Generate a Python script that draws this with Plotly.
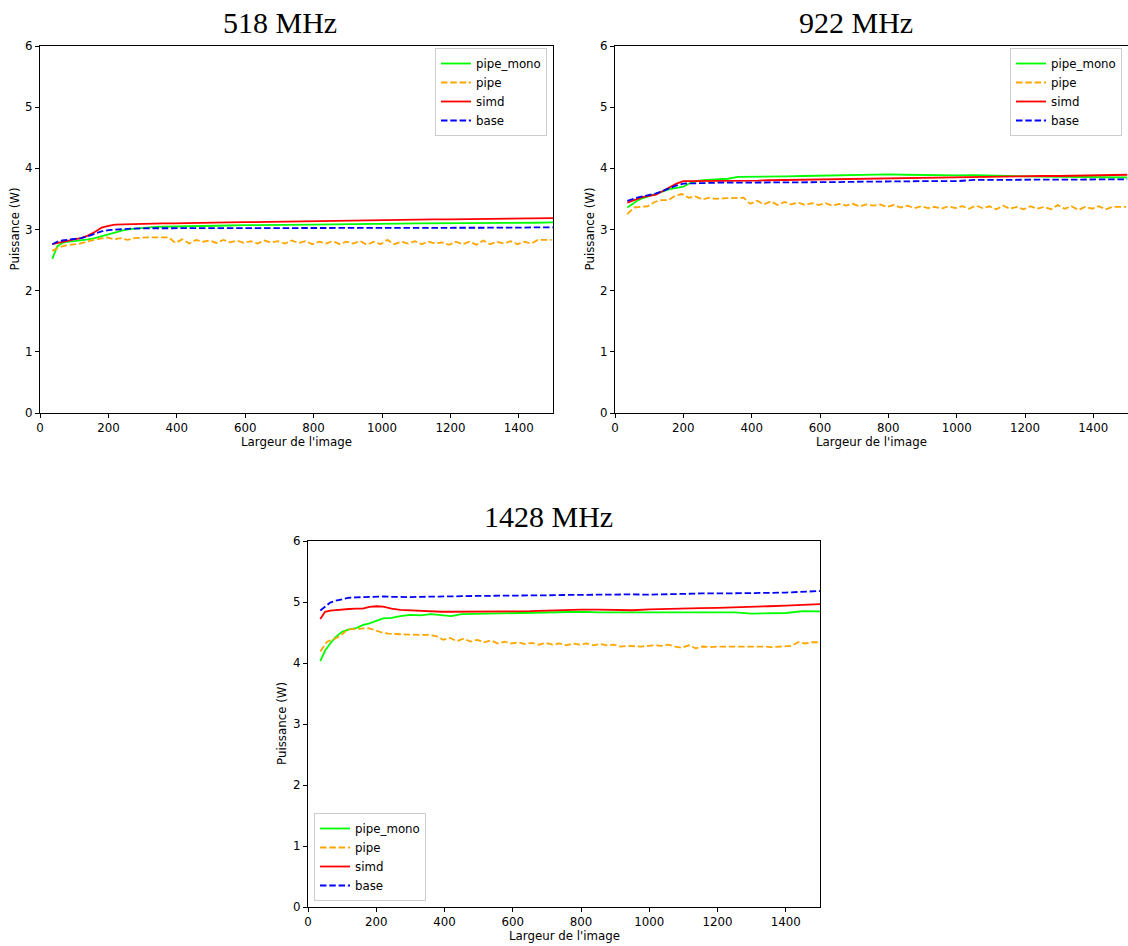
import plotly.graph_objects as go

W, H = 1128, 946


def px(x):
    return x / W


def py(y):
    return 1 - y / H


# ---------------- data ----------------
TITLES = ["518 MHz", "922 MHz", "1428 MHz"]
SERIES = ["pipe_mono", "pipe", "simd", "base"]
COLORS = {"pipe_mono": "#00ff00", "pipe": "#ffa500", "simd": "#ff0000", "base": "#0000ff"}
DASHED = {"pipe_mono": False, "pipe": True, "simd": False, "base": True}

# x grid of the smooth series (image width)
X_SMOOTH = [36, 50, 65, 80, 100, 120, 140, 160, 180, 200, 220, 245, 270, 300, 330, 360, 390,
            420, 450, 500, 550, 600, 650, 700, 750, 800, 850, 900, 950, 1000, 1050, 1100,
            1150, 1200, 1250, 1300, 1350, 1400, 1450, 1500]
# x grid of the "pipe" series (finer, noisy)
X_PIPE = list(range(36, 1500, 20))

# ---- 518 MHz ----
P518_pipe_mono = [2.52, 2.72, 2.78, 2.80, 2.81, 2.82, 2.84, 2.86, 2.89, 2.93, 2.96, 2.99, 3.01,
                  3.03, 3.04, 3.045, 3.05, 3.05, 3.055, 3.06, 3.065, 3.07, 3.07, 3.075, 3.08,
                  3.08, 3.085, 3.085, 3.09, 3.09, 3.095, 3.10, 3.10, 3.10, 3.105, 3.105, 3.11,
                  3.11, 3.11, 3.115]
P518_simd = [2.76, 2.78, 2.80, 2.82, 2.84, 2.86, 2.90, 2.96, 3.03, 3.06, 3.08, 3.085, 3.09,
             3.09, 3.10, 3.10, 3.10, 3.105, 3.11, 3.11, 3.115, 3.12, 3.125, 3.13, 3.135, 3.14,
             3.14, 3.145, 3.15, 3.155, 3.16, 3.16, 3.165, 3.165, 3.17, 3.17, 3.175, 3.175,
             3.18, 3.185]
P518_base = [2.76, 2.80, 2.82, 2.83, 2.84, 2.86, 2.89, 2.93, 2.97, 2.99, 3.00, 3.01, 3.015,
             3.02, 3.02, 3.02, 3.02, 3.02, 3.02, 3.02, 3.02, 3.02, 3.02, 3.02, 3.025, 3.025,
             3.025, 3.025, 3.025, 3.025, 3.025, 3.025, 3.03, 3.03, 3.03, 3.03, 3.03, 3.03,
             3.035, 3.035]
P518_pipe = [2.65, 2.71, 2.74, 2.75, 2.77, 2.80, 2.83, 2.85, 2.87, 2.84,
             2.86, 2.83, 2.86, 2.87, 2.87, 2.87, 2.87, 2.87, 2.78, 2.84,
             2.77, 2.83, 2.80, 2.82, 2.78, 2.83, 2.79, 2.82, 2.78, 2.81,
             2.77, 2.82, 2.79, 2.81, 2.77, 2.82, 2.78, 2.81, 2.76, 2.80,
             2.77, 2.81, 2.76, 2.80, 2.77, 2.81, 2.75, 2.80, 2.76, 2.83,
             2.76, 2.80, 2.77, 2.81, 2.76, 2.80, 2.77, 2.79, 2.75, 2.80,
             2.76, 2.80, 2.75, 2.82, 2.76, 2.80, 2.77, 2.81, 2.76, 2.80,
             2.77, 2.83, 2.83, 2.83]

# ---- 922 MHz ----
P922_pipe_mono = [3.36, 3.42, 3.47, 3.51, 3.55, 3.59, 3.63, 3.66, 3.68, 3.70, 3.76, 3.80, 3.81,
                  3.82, 3.83, 3.86, 3.86, 3.865, 3.86, 3.87, 3.875, 3.88, 3.89, 3.90, 3.905,
                  3.90, 3.895, 3.89, 3.89, 3.885, 3.89, 3.88, 3.875, 3.87, 3.865, 3.86, 3.86,
                  3.855, 3.85, 3.85]
P922_simd = [3.44, 3.47, 3.50, 3.53, 3.55, 3.57, 3.63, 3.69, 3.75, 3.79, 3.79, 3.79, 3.79,
             3.79, 3.795, 3.80, 3.80, 3.80, 3.805, 3.81, 3.815, 3.82, 3.82, 3.83, 3.835, 3.84,
             3.84, 3.845, 3.85, 3.855, 3.86, 3.865, 3.87, 3.87, 3.875, 3.875, 3.88, 3.885,
             3.89, 3.895]
P922_base = [3.47, 3.50, 3.52, 3.54, 3.56, 3.59, 3.63, 3.68, 3.72, 3.75, 3.755, 3.76, 3.76,
             3.765, 3.765, 3.765, 3.765, 3.77, 3.77, 3.77, 3.77, 3.77, 3.775, 3.78, 3.785,
             3.79, 3.79, 3.79, 3.79, 3.79, 3.81, 3.81, 3.81, 3.81, 3.81, 3.81, 3.815, 3.815,
             3.82, 3.82]
P922_pipe = [3.25, 3.36, 3.37, 3.38, 3.45, 3.48, 3.48, 3.55, 3.58, 3.52,
             3.54, 3.49, 3.52, 3.50, 3.51, 3.51, 3.51, 3.52, 3.42, 3.47,
             3.41, 3.46, 3.40, 3.45, 3.41, 3.44, 3.40, 3.43, 3.40, 3.43,
             3.39, 3.42, 3.39, 3.42, 3.38, 3.41, 3.39, 3.41, 3.37, 3.40,
             3.36, 3.39, 3.35, 3.38, 3.35, 3.37, 3.34, 3.38, 3.35, 3.38,
             3.34, 3.39, 3.35, 3.38, 3.33, 3.39, 3.34, 3.37, 3.33, 3.38,
             3.34, 3.37, 3.33, 3.40, 3.34, 3.38, 3.32, 3.37, 3.34, 3.38,
             3.33, 3.37, 3.37, 3.37]

# ---- 1428 MHz ----
P1428_pipe_mono = [4.03, 4.20, 4.32, 4.42, 4.51, 4.55, 4.57, 4.62, 4.65, 4.69, 4.73, 4.74,
                   4.77, 4.79, 4.78, 4.80, 4.79, 4.77, 4.80, 4.805, 4.81, 4.815, 4.82, 4.83,
                   4.835, 4.84, 4.83, 4.83, 4.83, 4.825, 4.83, 4.835, 4.83, 4.83, 4.83, 4.81,
                   4.81, 4.82, 4.85, 4.845]
P1428_simd = [4.72, 4.84, 4.86, 4.87, 4.88, 4.885, 4.89, 4.89, 4.92, 4.93, 4.925, 4.89, 4.87,
              4.86, 4.85, 4.845, 4.84, 4.84, 4.84, 4.84, 4.845, 4.85, 4.85, 4.86, 4.87, 4.875,
              4.875, 4.87, 4.865, 4.88, 4.89, 4.895, 4.90, 4.905, 4.91, 4.92, 4.93, 4.94,
              4.95, 4.965]
P1428_base = [4.86, 4.93, 4.99, 5.02, 5.05, 5.07, 5.075, 5.08, 5.085, 5.09, 5.09, 5.085, 5.08,
              5.08, 5.085, 5.09, 5.09, 5.095, 5.095, 5.10, 5.10, 5.105, 5.11, 5.11, 5.115,
              5.12, 5.12, 5.125, 5.125, 5.12, 5.13, 5.135, 5.14, 5.14, 5.14, 5.15, 5.15,
              5.155, 5.165, 5.18]
P1428_pipe = [4.19, 4.35, 4.39, 4.45, 4.55, 4.56, 4.57, 4.57, 4.54, 4.50,
              4.48, 4.47, 4.47, 4.465, 4.465, 4.46, 4.46, 4.44, 4.38, 4.41,
              4.36, 4.40, 4.35, 4.38, 4.34, 4.37, 4.32, 4.35, 4.32, 4.34,
              4.31, 4.33, 4.30, 4.33, 4.30, 4.32, 4.29, 4.32, 4.30, 4.32,
              4.29, 4.31, 4.29, 4.30, 4.27, 4.28, 4.27, 4.27, 4.28, 4.29,
              4.28, 4.30, 4.27, 4.25, 4.29, 4.24, 4.27, 4.26, 4.27, 4.27,
              4.27, 4.28, 4.27, 4.28, 4.27, 4.27, 4.26, 4.27, 4.27, 4.28,
              4.34, 4.32, 4.34, 4.34]

PANELS = [
    {"pipe_mono": P518_pipe_mono, "pipe": P518_pipe, "simd": P518_simd, "base": P518_base},
    {"pipe_mono": P922_pipe_mono, "pipe": P922_pipe, "simd": P922_simd, "base": P922_base},
    {"pipe_mono": P1428_pipe_mono, "pipe": P1428_pipe, "simd": P1428_simd, "base": P1428_base},
]

X_TICKS = [0, 200, 400, 600, 800, 1000, 1200, 1400]
Y_TICKS = [0, 1, 2, 3, 4, 5, 6]
X_LABEL = "Largeur de l'image"
Y_LABEL = "Puissance (W)"

# ---------------- layout (pixel boxes: left, right, top, bottom) ----------------
BOXES = [(40, 553, 46, 413), (615, 1127.5, 46, 413), (308, 820, 541, 907)]
TITLE_POS = [(280, 22), (856, 22), (548, 516)]
LEGENDS = [
    dict(x=px(547), y=py(48), xanchor="right", yanchor="top"),
    dict(x=px(1122), y=py(48), xanchor="right", yanchor="top"),
    dict(x=px(314), y=py(901), xanchor="left", yanchor="bottom"),
]

FONT = "DejaVu Sans"
FS = 11.8

fig = go.Figure()
layout = dict(
    template="none",
    width=W, height=H,
    margin=dict(l=0, r=0, t=0, b=0, pad=0),
    paper_bgcolor="white", plot_bgcolor="white",
    font=dict(family=FONT, size=FS, color="black"),
    showlegend=True,
    annotations=[],
)

for i, panel in enumerate(PANELS):
    n = "" if i == 0 else str(i + 1)
    lg = "legend" if i == 0 else f"legend{i + 1}"
    for s in SERIES:
        xs = X_PIPE if s == "pipe" else X_SMOOTH
        fig.add_trace(go.Scatter(
            x=xs, y=panel[s], mode="lines", name=s,
            xaxis="x" + n, yaxis="y" + n, legend=lg,
            line=dict(color=COLORS[s], width=1.8,
                      dash="6.5px,2.8px" if DASHED[s] else "solid"),
        ))
    l, r, t, b = BOXES[i]
    common = dict(
        ticks="outside", ticklen=4, tickwidth=1, tickcolor="black",
        showline=True, linecolor="black", linewidth=1, mirror=True,
        showgrid=False, zeroline=False, automargin=False,
        tickfont=dict(size=FS, family=FONT, color="black"),
    )
    layout["xaxis" + n] = dict(domain=[px(l), px(r)], anchor="y" + n, range=[0, 1500],
                               tickvals=X_TICKS, **common)
    layout["yaxis" + n] = dict(domain=[py(b), py(t)], anchor="x" + n, range=[0, 6],
                               tickvals=Y_TICKS, **common)
    layout[lg] = dict(
        **LEGENDS[i], xref="paper", yref="paper",
        bgcolor="white", bordercolor="#cccccc", borderwidth=1,
        font=dict(size=FS, family=FONT, color="black"), itemwidth=30, tracegroupgap=0,
    )
    tx, ty = TITLE_POS[i]
    layout["annotations"].append(dict(
        text=TITLES[i], x=px(tx), y=py(ty), xref="paper", yref="paper",
        showarrow=False, xanchor="center", yanchor="middle",
        font=dict(family="Liberation Serif", size=30, color="black"),
    ))
    layout["annotations"].append(dict(
        text=X_LABEL, x=px((l + r) / 2), y=py(b + 29), xref="paper", yref="paper",
        showarrow=False, xanchor="center", yanchor="middle",
        font=dict(family=FONT, size=FS, color="black"),
    ))
    layout["annotations"].append(dict(
        text=Y_LABEL, x=px(l - 26), y=py((t + b) / 2), xref="paper", yref="paper",
        showarrow=False, xanchor="center", yanchor="middle", textangle=-90,
        font=dict(family=FONT, size=FS, color="black"),
    ))

fig.update_layout(**layout)
# remove the browser's default 8px page margin so the figure fills the window
fig.write_html(
    "out.html",
    config={"displayModeBar": False},
    post_script="document.body.style.margin='0px';document.body.style.overflow='hidden';",
)
